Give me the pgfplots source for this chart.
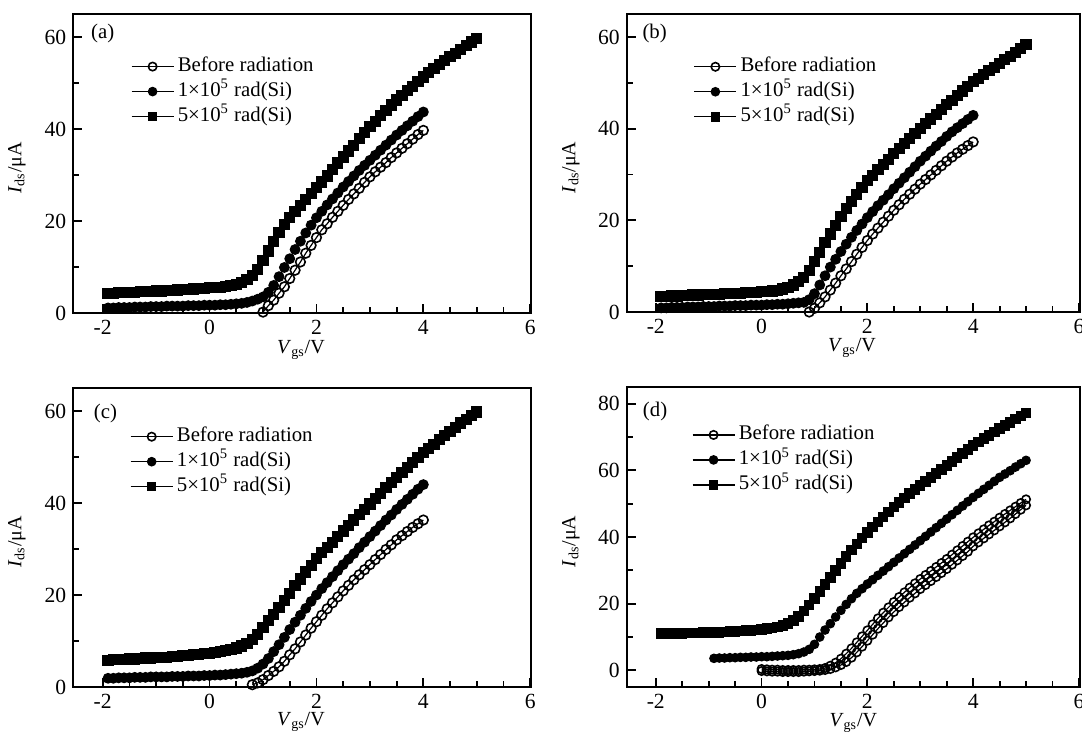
\documentclass[border=0pt]{standalone}
\usepackage{fontspec}
\setmainfont{Liberation Serif}
\usepackage{pgfplots}
\pgfplotsset{compat=1.18}
\pgfplotsset{
  panel/.style={
    scale only axis,
    width=229pt, height=149.5pt,
    xmin=-2.55, xmax=6.02,
    xtick={-2,0,2,4,6},
    minor x tick num=3,
    minor y tick num=1,
    tick pos=left,
    tick align=inside,
    major tick length=4.5pt,
    minor tick length=3pt,
    axis line style={line width=1pt},
    every tick/.style={black, line width=0.9pt},
    clip=false,
    /pgf/number format/assume math mode=true,
    ticklabel style={font=\fontsize{10.8}{12}\selectfont},
    label style={font=\fontsize{10.8}{12}\selectfont},
    xlabel={\textit{V}\textsubscript{gs}/V},
    ylabel={\textit{I}\textsubscript{ds}/μA},
    every axis x label/.style={at={(axis description cs:0.497,-0.134)}, anchor=base},
    every axis y label/.style={at={(axis description cs:-0.123,0.485)}, rotate=90, anchor=center},
    legend cell align=left,
    legend style={draw=none, fill=none, inner sep=0pt, outer sep=0pt, row sep=0pt,
      font=\fontsize{10.4}{12}\selectfont,
      nodes={inner sep=0pt, text height=8.5pt, text depth=4pt, anchor=west},
      /tikz/every odd column/.append style={column sep=1.8pt}},
    legend image code/.code={\draw[mark repeat=2,mark phase=2, mark size=2.1pt] plot coordinates {(0pt,0pt) (10.5pt,0pt) (21pt,0pt)};},
  },
  br/.style={black, line width=0.6pt, mark=o, mark size=2.4pt, mark options={line width=0.8pt, fill=white, solid}},
  ra/.style={black, line width=0.6pt, mark=*, mark size=2.4pt},
  rb/.style={black, line width=0.6pt, mark=square*, mark size=2.5pt},
}
\begin{document}
\begin{tikzpicture}
\useasboundingbox (0pt,0pt) rectangle (541pt,-370pt);
% ---------------- (a)
\begin{axis}[panel, at={(36.65pt,-156.5pt)}, anchor=south west,
  ymin=0, ymax=65, ytick={0,20,40,60},
  legend style={at={(0.126,0.866)}, anchor=north west}]
\addplot[br] coordinates {(1.0,0.2)(1.1,1.6)(1.2,2.8)(1.3,4.3)(1.4,5.7)(1.5,7.5)(1.6,9.3)(1.7,11.1)(1.8,13.0)(1.9,14.7)(2.0,16.4)(2.1,18.1)(2.2,19.4)(2.3,20.8)(2.4,22.1)(2.5,23.4)(2.6,24.7)(2.7,25.9)(2.8,27.1)(2.9,28.4)(3.0,29.6)(3.1,30.7)(3.2,31.7)(3.3,32.7)(3.4,33.8)(3.5,34.8)(3.6,35.8)(3.7,36.8)(3.8,37.8)(3.9,38.8)(4.0,39.7)};
\addplot[ra] coordinates {(-1.9,1.1)(-1.8,1.1)(-1.7,1.2)(-1.6,1.2)(-1.5,1.2)(-1.4,1.3)(-1.3,1.3)(-1.2,1.3)(-1.1,1.4)(-1.0,1.4)(-0.9,1.4)(-0.8,1.5)(-0.7,1.5)(-0.6,1.5)(-0.5,1.5)(-0.4,1.6)(-0.3,1.6)(-0.2,1.6)(-0.1,1.7)(0.0,1.7)(0.1,1.7)(0.2,1.8)(0.3,1.8)(0.4,1.9)(0.5,2.0)(0.6,2.1)(0.7,2.3)(0.8,2.6)(0.9,3.0)(1.0,3.5)(1.1,4.5)(1.2,6.0)(1.3,7.9)(1.4,9.9)(1.5,11.8)(1.6,13.8)(1.7,15.6)(1.8,17.4)(1.9,19.1)(2.0,20.7)(2.1,22.1)(2.2,23.5)(2.3,24.8)(2.4,26.1)(2.5,27.4)(2.6,28.6)(2.7,29.8)(2.8,31.0)(2.9,32.1)(3.0,33.2)(3.1,34.3)(3.2,35.4)(3.3,36.5)(3.4,37.6)(3.5,38.7)(3.6,39.7)(3.7,40.7)(3.8,41.7)(3.9,42.7)(4.0,43.7)};
\addplot[rb] coordinates {(-1.9,4.3)(-1.8,4.3)(-1.7,4.4)(-1.6,4.4)(-1.5,4.5)(-1.4,4.5)(-1.3,4.6)(-1.2,4.6)(-1.1,4.7)(-1.0,4.8)(-0.9,4.8)(-0.8,4.9)(-0.7,4.9)(-0.6,5.0)(-0.5,5.1)(-0.4,5.1)(-0.3,5.2)(-0.2,5.3)(-0.1,5.4)(0.0,5.5)(0.1,5.5)(0.2,5.6)(0.3,5.7)(0.4,5.9)(0.5,6.2)(0.6,6.6)(0.7,7.2)(0.8,8.1)(0.9,9.5)(1.0,11.4)(1.1,13.5)(1.2,15.5)(1.3,17.5)(1.4,19.2)(1.5,20.7)(1.6,22.0)(1.7,23.3)(1.8,24.6)(1.9,25.9)(2.0,27.2)(2.1,28.5)(2.2,29.8)(2.3,31.2)(2.4,32.6)(2.5,33.9)(2.6,35.2)(2.7,36.5)(2.8,37.9)(2.9,39.2)(3.0,40.5)(3.1,41.7)(3.2,42.9)(3.3,44.0)(3.4,45.2)(3.5,46.3)(3.6,47.3)(3.7,48.3)(3.8,49.3)(3.9,50.3)(4.0,51.3)(4.1,52.2)(4.2,53.1)(4.3,54.0)(4.4,54.9)(4.5,55.7)(4.6,56.5)(4.7,57.3)(4.8,58.1)(4.9,58.9)(5.0,59.7)};
\legend{Before radiation, 1×10\textsuperscript{5} rad(Si), 5×10\textsuperscript{5} rad(Si)}
\node[anchor=west, inner sep=0pt, font=\fontsize{10.4}{12}\selectfont] at (rel axis cs:0.038,0.935) {(a)};
\end{axis}
% ---------------- (b)
\begin{axis}[panel, at={(313.35pt,-156pt)}, anchor=south west, width=226.65pt, height=149pt,
  ymin=0, ymax=65, ytick={0,20,40,60},
  legend style={at={(0.148,0.865)}, anchor=north west}]
\addplot[br] coordinates {(0.9,0.0)(1.0,0.8)(1.1,2.0)(1.2,3.3)(1.3,4.8)(1.4,6.3)(1.5,7.9)(1.6,9.4)(1.7,11.0)(1.8,12.6)(1.9,14.1)(2.0,15.6)(2.1,17.0)(2.2,18.3)(2.3,19.6)(2.4,20.9)(2.5,22.2)(2.6,23.4)(2.7,24.6)(2.8,25.7)(2.9,26.8)(3.0,27.9)(3.1,28.9)(3.2,29.9)(3.3,30.9)(3.4,31.9)(3.5,32.9)(3.6,33.8)(3.7,34.7)(3.8,35.5)(3.9,36.3)(4.0,37.1)};
\addplot[ra] coordinates {(-1.9,0.9)(-1.8,0.9)(-1.7,1.0)(-1.6,1.0)(-1.5,1.0)(-1.4,1.1)(-1.3,1.1)(-1.2,1.1)(-1.1,1.2)(-1.0,1.2)(-0.9,1.2)(-0.8,1.3)(-0.7,1.3)(-0.6,1.3)(-0.5,1.4)(-0.4,1.4)(-0.3,1.4)(-0.2,1.5)(-0.1,1.5)(0.0,1.5)(0.1,1.6)(0.2,1.6)(0.3,1.7)(0.4,1.7)(0.5,1.8)(0.6,1.9)(0.7,2.0)(0.8,2.1)(0.9,2.7)(1.0,4.0)(1.1,5.9)(1.2,7.9)(1.3,9.8)(1.4,11.5)(1.5,13.2)(1.6,14.8)(1.7,16.3)(1.8,17.8)(1.9,19.2)(2.0,20.6)(2.1,21.9)(2.2,23.2)(2.3,24.4)(2.4,25.6)(2.5,26.9)(2.6,28.1)(2.7,29.3)(2.8,30.5)(2.9,31.7)(3.0,32.9)(3.1,34.0)(3.2,35.1)(3.3,36.2)(3.4,37.2)(3.5,38.3)(3.6,39.3)(3.7,40.2)(3.8,41.1)(3.9,42.0)(4.0,42.9)};
\addplot[rb] coordinates {(-1.9,3.4)(-1.8,3.4)(-1.7,3.5)(-1.6,3.5)(-1.5,3.6)(-1.4,3.6)(-1.3,3.7)(-1.2,3.7)(-1.1,3.8)(-1.0,3.8)(-0.9,3.9)(-0.8,3.9)(-0.7,4.0)(-0.6,4.0)(-0.5,4.1)(-0.4,4.1)(-0.3,4.2)(-0.2,4.3)(-0.1,4.3)(0.0,4.4)(0.1,4.5)(0.2,4.6)(0.3,4.7)(0.4,5.0)(0.5,5.4)(0.6,5.9)(0.7,6.6)(0.8,7.6)(0.9,9.1)(1.0,11.0)(1.1,13.0)(1.2,15.1)(1.3,17.0)(1.4,18.9)(1.5,20.8)(1.6,22.6)(1.7,24.1)(1.8,25.6)(1.9,27.1)(2.0,28.6)(2.1,29.8)(2.2,31.0)(2.3,32.2)(2.4,33.3)(2.5,34.5)(2.6,35.7)(2.7,36.8)(2.8,37.9)(2.9,39.0)(3.0,40.1)(3.1,41.1)(3.2,42.1)(3.3,43.1)(3.4,44.2)(3.5,45.2)(3.6,46.2)(3.7,47.2)(3.8,48.2)(3.9,49.2)(4.0,50.2)(4.1,51.0)(4.2,51.8)(4.3,52.6)(4.4,53.4)(4.5,54.2)(4.6,55.0)(4.7,55.8)(4.8,56.6)(4.9,57.4)(5.0,58.3)};
\legend{Before radiation, 1×10\textsuperscript{5} rad(Si), 5×10\textsuperscript{5} rad(Si)}
\node[anchor=west, inner sep=0pt, font=\fontsize{10.4}{12}\selectfont] at (rel axis cs:0.034,0.935) {(b)};
\end{axis}
% ---------------- (c)
\begin{axis}[panel, at={(36.65pt,-343.5pt)}, anchor=south west,
  ymin=0, ymax=65, ytick={0,20,40,60},
  every axis x label/.style={at={(axis description cs:0.497,-0.13)}, anchor=base},
  legend style={at={(0.124,0.879)}, anchor=north west}]
\addplot[br] coordinates {(0.8,0.5)(0.9,0.9)(1.0,1.6)(1.1,2.5)(1.2,3.4)(1.3,4.4)(1.4,5.6)(1.5,7.0)(1.6,8.3)(1.7,9.8)(1.8,11.3)(1.9,12.8)(2.0,14.2)(2.1,15.6)(2.2,17.0)(2.3,18.3)(2.4,19.6)(2.5,20.9)(2.6,22.1)(2.7,23.3)(2.8,24.4)(2.9,25.5)(3.0,26.6)(3.1,27.7)(3.2,28.8)(3.3,29.9)(3.4,30.9)(3.5,32.0)(3.6,32.9)(3.7,33.8)(3.8,34.7)(3.9,35.5)(4.0,36.3)};
\addplot[ra] coordinates {(-1.9,1.9)(-1.8,1.9)(-1.7,2.0)(-1.6,2.0)(-1.5,2.0)(-1.4,2.1)(-1.3,2.1)(-1.2,2.1)(-1.1,2.2)(-1.0,2.2)(-0.9,2.2)(-0.8,2.2)(-0.7,2.3)(-0.6,2.3)(-0.5,2.3)(-0.4,2.4)(-0.3,2.4)(-0.2,2.4)(-0.1,2.5)(0.0,2.5)(0.1,2.6)(0.2,2.6)(0.3,2.7)(0.4,2.8)(0.5,2.9)(0.6,3.0)(0.7,3.2)(0.8,3.5)(0.9,4.1)(1.0,5.0)(1.1,6.2)(1.2,7.7)(1.3,9.2)(1.4,10.8)(1.5,12.5)(1.6,14.1)(1.7,15.6)(1.8,17.1)(1.9,18.6)(2.0,20.0)(2.1,21.4)(2.2,22.7)(2.3,24.0)(2.4,25.3)(2.5,26.6)(2.6,27.8)(2.7,29.0)(2.8,30.3)(2.9,31.5)(3.0,32.7)(3.1,33.9)(3.2,35.1)(3.3,36.3)(3.4,37.4)(3.5,38.6)(3.6,39.7)(3.7,40.8)(3.8,41.9)(3.9,43.0)(4.0,44.0)};
\addplot[rb] coordinates {(-1.9,5.8)(-1.8,5.9)(-1.7,5.9)(-1.6,6.0)(-1.5,6.1)(-1.4,6.1)(-1.3,6.2)(-1.2,6.3)(-1.1,6.3)(-1.0,6.4)(-0.9,6.5)(-0.8,6.5)(-0.7,6.6)(-0.6,6.7)(-0.5,6.8)(-0.4,6.9)(-0.3,7.0)(-0.2,7.1)(-0.1,7.2)(0.0,7.3)(0.1,7.5)(0.2,7.7)(0.3,7.9)(0.4,8.2)(0.5,8.5)(0.6,8.9)(0.7,9.5)(0.8,10.3)(0.9,11.4)(1.0,12.9)(1.1,14.4)(1.2,15.8)(1.3,17.2)(1.4,18.8)(1.5,20.4)(1.6,22.0)(1.7,23.5)(1.8,25.0)(1.9,26.5)(2.0,28.0)(2.1,29.2)(2.2,30.4)(2.3,31.5)(2.4,32.7)(2.5,33.9)(2.6,35.1)(2.7,36.3)(2.8,37.5)(2.9,38.6)(3.0,39.8)(3.1,41.0)(3.2,42.1)(3.3,43.3)(3.4,44.4)(3.5,45.5)(3.6,46.6)(3.7,47.7)(3.8,48.8)(3.9,49.9)(4.0,50.9)(4.1,51.9)(4.2,52.8)(4.3,53.8)(4.4,54.7)(4.5,55.6)(4.6,56.5)(4.7,57.4)(4.8,58.2)(4.9,59.0)(5.0,59.8)};
\legend{Before radiation, 1×10\textsuperscript{5} rad(Si), 5×10\textsuperscript{5} rad(Si)}
\node[anchor=west, inner sep=0pt, font=\fontsize{10.4}{12}\selectfont] at (rel axis cs:0.044,0.915) {(c)};
\end{axis}
% ---------------- (d)
\begin{axis}[panel, at={(313.35pt,-343.5pt)}, anchor=south west, width=226.65pt, height=150pt,
  ymin=-5, ymax=85, ytick={0,20,40,60,80},
  every axis x label/.style={at={(axis description cs:0.5,-0.132)}, anchor=base},
  legend style={at={(0.144,0.882)}, anchor=north west}]
\addplot[br, mark size=2.1pt] coordinates {(0.0,0.4)(0.1,0.3)(0.2,0.2)(0.3,0.2)(0.4,0.1)(0.5,0.1)(0.6,0.1)(0.7,0.1)(0.8,0.2)(0.9,0.2)(1.0,0.3)(1.1,0.4)(1.2,0.7)(1.3,1.4)(1.4,2.3)(1.5,3.5)(1.6,5.0)(1.7,6.6)(1.8,8.4)(1.9,10.2)(2.0,12.0)(2.1,13.8)(2.2,15.6)(2.3,17.3)(2.4,18.9)(2.5,20.5)(2.6,22.0)(2.7,23.4)(2.8,24.8)(2.9,26.1)(3.0,27.4)(3.1,28.6)(3.2,29.8)(3.3,31.0)(3.4,32.2)(3.5,33.4)(3.6,34.7)(3.7,36.0)(3.8,37.3)(3.9,38.6)(4.0,39.9)(4.1,41.1)(4.2,42.3)(4.3,43.5)(4.4,44.6)(4.5,45.8)(4.6,46.9)(4.7,48.0)(4.8,49.1)(4.9,50.2)(5.0,51.3)};
\addplot[ra, mark size=2.1pt] coordinates {(-0.9,3.6)(-0.8,3.7)(-0.7,3.7)(-0.6,3.8)(-0.5,3.8)(-0.4,3.9)(-0.3,3.9)(-0.2,4.0)(-0.1,4.0)(0.0,4.1)(0.1,4.1)(0.2,4.2)(0.3,4.3)(0.4,4.4)(0.5,4.5)(0.6,4.7)(0.7,5.0)(0.8,5.5)(0.9,6.3)(1.0,7.8)(1.1,10.0)(1.2,12.1)(1.3,14.0)(1.4,16.0)(1.5,18.0)(1.6,19.8)(1.7,21.5)(1.8,23.1)(1.9,24.5)(2.0,25.9)(2.1,27.2)(2.2,28.5)(2.3,29.8)(2.4,31.1)(2.5,32.4)(2.6,33.7)(2.7,35.0)(2.8,36.3)(2.9,37.6)(3.0,38.9)(3.1,40.2)(3.2,41.5)(3.3,42.8)(3.4,44.1)(3.5,45.4)(3.6,46.7)(3.7,48.0)(3.8,49.3)(3.9,50.6)(4.0,51.9)(4.1,53.1)(4.2,54.3)(4.3,55.5)(4.4,56.7)(4.5,57.9)(4.6,58.9)(4.7,59.9)(4.8,61.0)(4.9,62.0)(5.0,63.0)};
\addplot[rb, mark size=2.3pt] coordinates {(-1.9,11.0)(-1.8,11.0)(-1.7,11.1)(-1.6,11.1)(-1.5,11.1)(-1.4,11.2)(-1.3,11.2)(-1.2,11.2)(-1.1,11.3)(-1.0,11.3)(-0.9,11.4)(-0.8,11.4)(-0.7,11.5)(-0.6,11.6)(-0.5,11.7)(-0.4,11.8)(-0.3,11.9)(-0.2,12.0)(-0.1,12.1)(0.0,12.3)(0.1,12.5)(0.2,12.7)(0.3,13.0)(0.4,13.4)(0.5,14.0)(0.6,14.9)(0.7,16.2)(0.8,17.8)(0.9,19.6)(1.0,21.6)(1.1,23.7)(1.2,25.8)(1.3,27.9)(1.4,30.0)(1.5,32.1)(1.6,34.2)(1.7,36.1)(1.8,37.9)(1.9,39.7)(2.0,41.4)(2.1,43.0)(2.2,44.5)(2.3,46.0)(2.4,47.5)(2.5,49.0)(2.6,50.4)(2.7,51.7)(2.8,53.0)(2.9,54.3)(3.0,55.5)(3.1,56.7)(3.2,57.9)(3.3,59.1)(3.4,60.3)(3.5,61.5)(3.6,62.7)(3.7,63.9)(3.8,65.1)(3.9,66.3)(4.0,67.5)(4.1,68.5)(4.2,69.5)(4.3,70.5)(4.4,71.5)(4.5,72.5)(4.6,73.5)(4.7,74.4)(4.8,75.4)(4.9,76.3)(5.0,77.2)};
\addplot[br, mark size=2.1pt, forget plot] coordinates {(0.0,-0.2)(0.1,-0.3)(0.2,-0.4)(0.3,-0.4)(0.4,-0.5)(0.5,-0.5)(0.6,-0.5)(0.7,-0.5)(0.8,-0.4)(0.9,-0.3)(1.0,-0.2)(1.1,-0.1)(1.2,0.1)(1.3,0.4)(1.4,0.9)(1.5,1.6)(1.6,2.5)(1.7,3.8)(1.8,5.4)(1.9,7.1)(2.0,8.9)(2.1,10.7)(2.2,12.5)(2.3,14.2)(2.4,15.9)(2.5,17.5)(2.6,19.0)(2.7,20.4)(2.8,21.8)(2.9,23.1)(3.0,24.4)(3.1,25.6)(3.2,26.8)(3.3,28.0)(3.4,29.2)(3.5,30.4)(3.6,31.7)(3.7,33.0)(3.8,34.3)(3.9,35.6)(4.0,37.2)(4.1,38.4)(4.2,39.6)(4.3,40.8)(4.4,42.0)(4.5,43.2)(4.6,44.4)(4.7,45.6)(4.8,46.9)(4.9,48.2)(5.0,49.5)};
\legend{Before radiation, 1×10\textsuperscript{5} rad(Si), 5×10\textsuperscript{5} rad(Si)}
\node[anchor=west, inner sep=0pt, font=\fontsize{10.4}{12}\selectfont] at (rel axis cs:0.035,0.918) {(d)};
\end{axis}
\end{tikzpicture}
\end{document}
